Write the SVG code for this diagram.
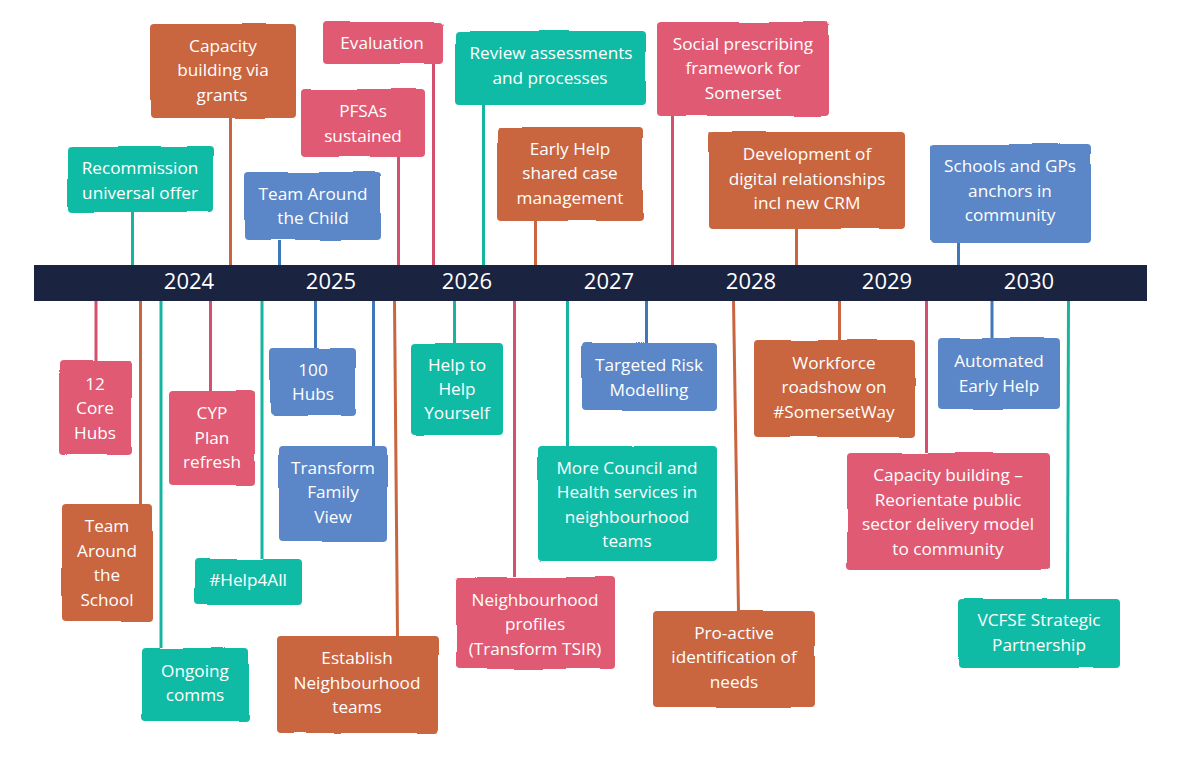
<svg xmlns="http://www.w3.org/2000/svg" width="1181" height="764" viewBox="0 0 1181 764">
<style>
text{font-family:"Open Sans","Noto Sans","Liberation Sans",sans-serif;font-size:17.2px;fill:#fff;text-anchor:middle}
.y{font-size:22px}
.b{stroke-width:0;rx:4px;filter:url(#wob)}
.teal{fill:#10BBA5}.org{fill:#C9653F}.red{fill:#DF5A72}.blu{fill:#5B86C7}
line{stroke-width:3}
.lt{stroke:#16B5A0}.lo{stroke:#C9653F}.lr{stroke:#D4506F}.lb{stroke:#3F78B8}
</style>
<defs>
<filter id="wob" x="-5%" y="-5%" width="110%" height="110%" color-interpolation-filters="sRGB">
<feTurbulence type="fractalNoise" baseFrequency="0.018" numOctaves="1" seed="4"/>
<feDisplacementMap in="SourceGraphic" scale="4" xChannelSelector="R" yChannelSelector="G"/>
<feGaussianBlur stdDeviation="0.35"/>
</filter>
</defs>
<rect width="1181" height="764" fill="#fff"/>
<g id="connectors">
<line class="lt" x1="132.500" y1="212" x2="132.500" y2="265"/>
<line class="lo" x1="230.500" y1="118" x2="230.500" y2="265"/>
<line class="lb" x1="279.500" y1="240" x2="279.500" y2="265"/>
<line class="lr" x1="398.500" y1="157" x2="398.500" y2="265"/>
<line class="lr" x1="433.500" y1="64" x2="433.500" y2="265"/>
<line class="lt" x1="483.500" y1="105" x2="483.500" y2="265"/>
<line class="lo" x1="535.500" y1="221" x2="535.500" y2="265"/>
<line class="lr" x1="672.500" y1="116" x2="672.500" y2="265"/>
<line class="lo" x1="796.500" y1="229" x2="796.500" y2="265"/>
<line class="lb" x1="958.500" y1="243" x2="958.500" y2="265"/>
<line class="lr" x1="96" y1="301" x2="96" y2="361"/>
<line class="lo" x1="140.500" y1="301" x2="140.500" y2="504"/>
<line class="lt" x1="161" y1="301" x2="161" y2="648"/>
<line class="lr" x1="210.500" y1="301" x2="210.500" y2="391"/>
<line class="lt" x1="262" y1="301" x2="262" y2="559"/>
<line class="lb" x1="315.500" y1="301" x2="315.500" y2="348"/>
<line class="lb" x1="373.500" y1="301" x2="373.500" y2="446"/>
<line class="lo" x1="394.500" y1="301" x2="397.500" y2="636"/>
<line class="lt" x1="454.500" y1="301" x2="454.500" y2="343"/>
<line class="lr" x1="514.500" y1="301" x2="514.500" y2="577"/>
<line class="lb" x1="646.500" y1="301" x2="646.500" y2="343"/>
<line class="lt" x1="567.500" y1="301" x2="567.500" y2="446"/>
<line class="lo" x1="733.500" y1="301" x2="738.500" y2="611"/>
<line class="lo" x1="839.500" y1="301" x2="839.500" y2="340"/>
<line class="lr" x1="926.500" y1="301" x2="926.500" y2="453"/>
<line class="lb" x1="992" y1="301" x2="992" y2="338"/>
<line class="lt" x1="1068.500" y1="301" x2="1067.500" y2="599"/>
</g>
<g id="timeline">
<rect x="34" y="265" width="1113" height="36" fill="#1A2340"/>
<text class="y" x="189" y="289">2024</text>
<text class="y" x="331" y="289">2025</text>
<text class="y" x="467" y="289">2026</text>
<text class="y" x="609" y="289">2027</text>
<text class="y" x="751" y="289">2028</text>
<text class="y" x="887" y="289">2029</text>
<text class="y" x="1029" y="289">2030</text>
</g>
<g id="n1"><rect class="b teal" x="68" y="146" width="145" height="66"/><text x="140" y="174">Recommission</text><text x="140" y="199">universal offer</text></g>
<g id="n2"><rect class="b org" x="150" y="24" width="146" height="94"/><text x="223" y="52">Capacity</text><text x="223" y="76">building via</text><text x="222" y="101">grants</text></g>
<g id="n3"><rect class="b blu" x="245" y="172" width="136" height="68"/><text x="313" y="200">Team Around</text><text x="313" y="224">the Child</text></g>
<g id="n4"><rect class="b red" x="301" y="89" width="124" height="68"/><text x="363" y="117">PFSAs</text><text x="363" y="142">sustained</text></g>
<g id="n5"><rect class="b red" x="323" y="22" width="120" height="42"/><text x="382" y="49">Evaluation</text></g>
<g id="n6"><rect class="b teal" x="455" y="31" width="191" height="74"/><text x="551" y="59">Review assessments</text><text x="550" y="84">and processes</text></g>
<g id="n7"><rect class="b org" x="497" y="127" width="146" height="94"/><text x="570" y="155">Early Help</text><text x="570" y="179">shared case</text><text x="570" y="204">management</text></g>
<g id="n8"><rect class="b red" x="657" y="22" width="172" height="94"/><text x="743" y="50">Social prescribing</text><text x="743" y="74">framework for</text><text x="743" y="99">Somerset</text></g>
<g id="n9"><rect class="b org" x="709" y="132" width="196" height="97"/><text x="807" y="160">Development of</text><text x="807" y="185">digital relationships</text><text x="807" y="209">incl new CRM</text></g>
<g id="n10"><rect class="b blu" x="930" y="144" width="161" height="99"/><text x="1010" y="172">Schools and GPs</text><text x="1010" y="197">anchors in</text><text x="1010" y="221">community</text></g>
<g id="n11"><rect class="b red" x="59" y="361" width="73" height="94"/><text x="95" y="390">12</text><text x="95" y="414">Core</text><text x="95" y="439">Hubs</text></g>
<g id="n12"><rect class="b org" x="62" y="504" width="91" height="117"/><text x="107" y="532">Team</text><text x="107" y="557">Around</text><text x="107" y="581">the</text><text x="107" y="606">School</text></g>
<g id="n13"><rect class="b teal" x="142" y="648" width="107" height="73"/><text x="195" y="677">Ongoing</text><text x="195" y="701">comms</text></g>
<g id="n14"><rect class="b red" x="169" y="391" width="86" height="94"/><text x="212" y="419">CYP</text><text x="212" y="444">Plan</text><text x="212" y="468">refresh</text></g>
<g id="n15"><rect class="b teal" x="195" y="559" width="106" height="46"/><text x="248" y="586">#Help4All</text></g>
<g id="n16"><rect class="b blu" x="270" y="348" width="86" height="68"/><text x="313" y="376">100</text><text x="313" y="400">Hubs</text></g>
<g id="n17"><rect class="b blu" x="279" y="446" width="108" height="96"/><text x="333" y="474">Transform</text><text x="333" y="498">Family</text><text x="333" y="523">View</text></g>
<g id="n18"><rect class="b org" x="277" y="636" width="161" height="97"/><text x="357" y="664">Establish</text><text x="357" y="689">Neighbourhood</text><text x="357" y="713">teams</text></g>
<g id="n19"><rect class="b teal" x="411" y="343" width="92" height="92"/><text x="457" y="371">Help to</text><text x="457" y="395">Help</text><text x="457" y="419">Yourself</text></g>
<g id="n20"><rect class="b red" x="456" y="577" width="159" height="92"/><text x="535" y="606">Neighbourhood</text><text x="535" y="630">profiles</text><text x="535" y="655">(Transform TSIR)</text></g>
<g id="n21"><rect class="b blu" x="581" y="343" width="136" height="68"/><text x="649" y="371">Targeted Risk</text><text x="649" y="396">Modelling</text></g>
<g id="n22"><rect class="b teal" x="538" y="446" width="179" height="115"/><text x="627" y="474">More Council and</text><text x="627" y="498">Health services in</text><text x="627" y="523">neighbourhood</text><text x="627" y="547">teams</text></g>
<g id="n23"><rect class="b org" x="653" y="611" width="162" height="96"/><text x="734" y="639">Pro-active</text><text x="734" y="663">identification of</text><text x="734" y="688">needs</text></g>
<g id="n24"><rect class="b org" x="754" y="340" width="161" height="97"/><text x="834" y="369">Workforce</text><text x="834" y="393">roadshow on</text><text x="834" y="418">#SomersetWay</text></g>
<g id="n25"><rect class="b red" x="847" y="453" width="203" height="117"/><text x="948" y="481">Capacity building –</text><text x="948" y="506">Reorientate public</text><text x="948" y="530">sector delivery model</text><text x="948" y="555">to community</text></g>
<g id="n26"><rect class="b blu" x="938" y="338" width="122" height="71"/><text x="999" y="367">Automated</text><text x="999" y="392">Early Help</text></g>
<g id="n27"><rect class="b teal" x="958" y="599" width="162" height="69"/><text x="1039" y="626">VCFSE Strategic</text><text x="1039" y="651">Partnership</text></g>
</svg>
